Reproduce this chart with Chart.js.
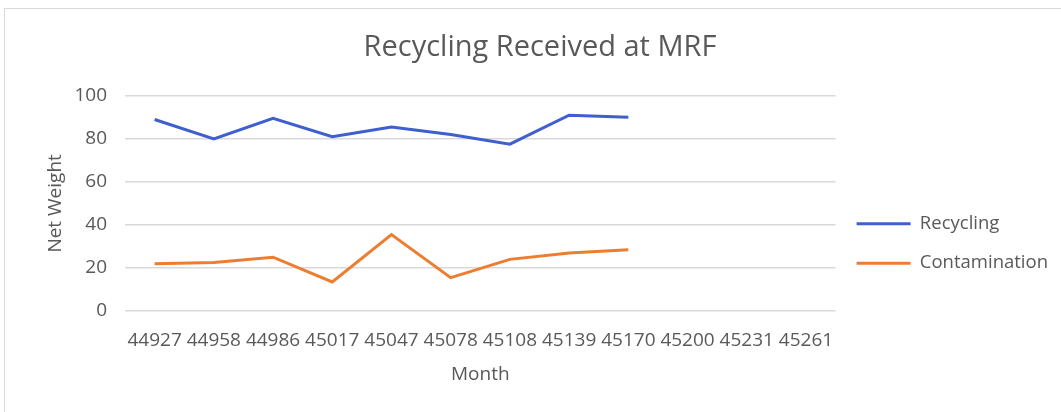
<!DOCTYPE html>
<html>
<head>
<meta charset="utf-8">
<script src="https://cdn.jsdelivr.net/npm/chart.js@4.4.0/dist/chart.umd.min.js"></script>
<style>
  html, body { margin: 0; padding: 0; background: #fff; overflow: hidden; }
  #frame { position: absolute; left: 4px; top: 8px; width: 1060px; height: 420px; border: 1px solid #d9d9d9; box-sizing: border-box; }
  #wrap { position: absolute; left: 0; top: 0; width: 1061px; height: 412px; }
</style>
</head>
<body>
<div id="frame"></div>
<div id="wrap"><canvas id="c"></canvas></div>
<script>
// month serials as shown on the axis
const months = ["44927", "44958", "44986", "45017", "45047", "45078", "45108", "45139", "45170", "45200", "45231", "45261"];
const recycling = [89, 80, 89.5, 81, 85.5, 82, 77.5, 91, 90];
const contamination = [22, 22.5, 25, 13.5, 35.5, 15.5, 24, 27, 28.5];
const yTicks = [0, 20, 40, 60, 80, 100];

const textColor = '#595959';
const fontFamily = "'Open Sans', sans-serif";

var config = {
  type: 'line',
  data: {
    labels: months,
    datasets: [{
      label: 'Recycling',
      data: recycling,
      borderColor: '#3f5fcf',
      backgroundColor: '#3f5fcf',
      borderWidth: 3,
      pointRadius: 0,
      tension: 0
    }, {
      label: 'Contamination',
      data: contamination,
      borderColor: '#ed7d31',
      backgroundColor: '#ed7d31',
      borderWidth: 3,
      pointRadius: 0,
      tension: 0
    }]
  },
  options: {
    responsive: true,
    maintainAspectRatio: false,
    animation: false,
    layout: { padding: { left: 22, right: 3, top: 0, bottom: 26 } },
    plugins: {
      title: {
        display: true,
        text: 'Recycling Received at MRF',
        color: textColor,
        font: { family: fontFamily, size: 29, weight: 'normal' },
        padding: { top: 30, bottom: 31 }
      },
      legend: {
        position: 'right',
        // blank title just pushes the items down a bit
        title: { display: true, text: ' ', padding: { top: 39, bottom: 39 }, font: { size: 19 } },
        labels: {
          color: textColor,
          font: { family: fontFamily, size: 18.5 },
          usePointStyle: true,
          pointStyle: 'line',
          pointStyleWidth: 54,
          padding: 21
        }
      },
      tooltip: { enabled: false }
    },
    scales: {
      x: {
        offset: true,
        afterFit: (scale) => { scale.height = 75; },
        grid: { display: false, drawTicks: false },
        border: { display: false },
        ticks: { color: textColor, font: { family: fontFamily, size: 19 }, padding: 18, maxRotation: 0, autoSkip: false },
        title: { display: true, text: 'Month', color: textColor, font: { family: fontFamily, size: 19 }, padding: { top: 4, bottom: 0 } }
      },
      y: {
        min: 0,
        max: 100,
        afterBuildTicks: (scale) => { scale.ticks = yTicks.map(v => ({ value: v })); },
        afterFit: (scale) => { scale.width = 103; },
        grid: { color: '#d9d9d9', lineWidth: 1.5, drawTicks: false },
        border: { display: false },
        ticks: { color: textColor, font: { family: fontFamily, size: 19 }, padding: 18 },
        title: { display: true, text: 'Net Weight', color: textColor, font: { family: fontFamily, size: 19 }, padding: { top: 22, bottom: 0 } }
      }
    }
  }
};

var chart = new Chart(document.getElementById('c'), config);
</script>
</body>
</html>
